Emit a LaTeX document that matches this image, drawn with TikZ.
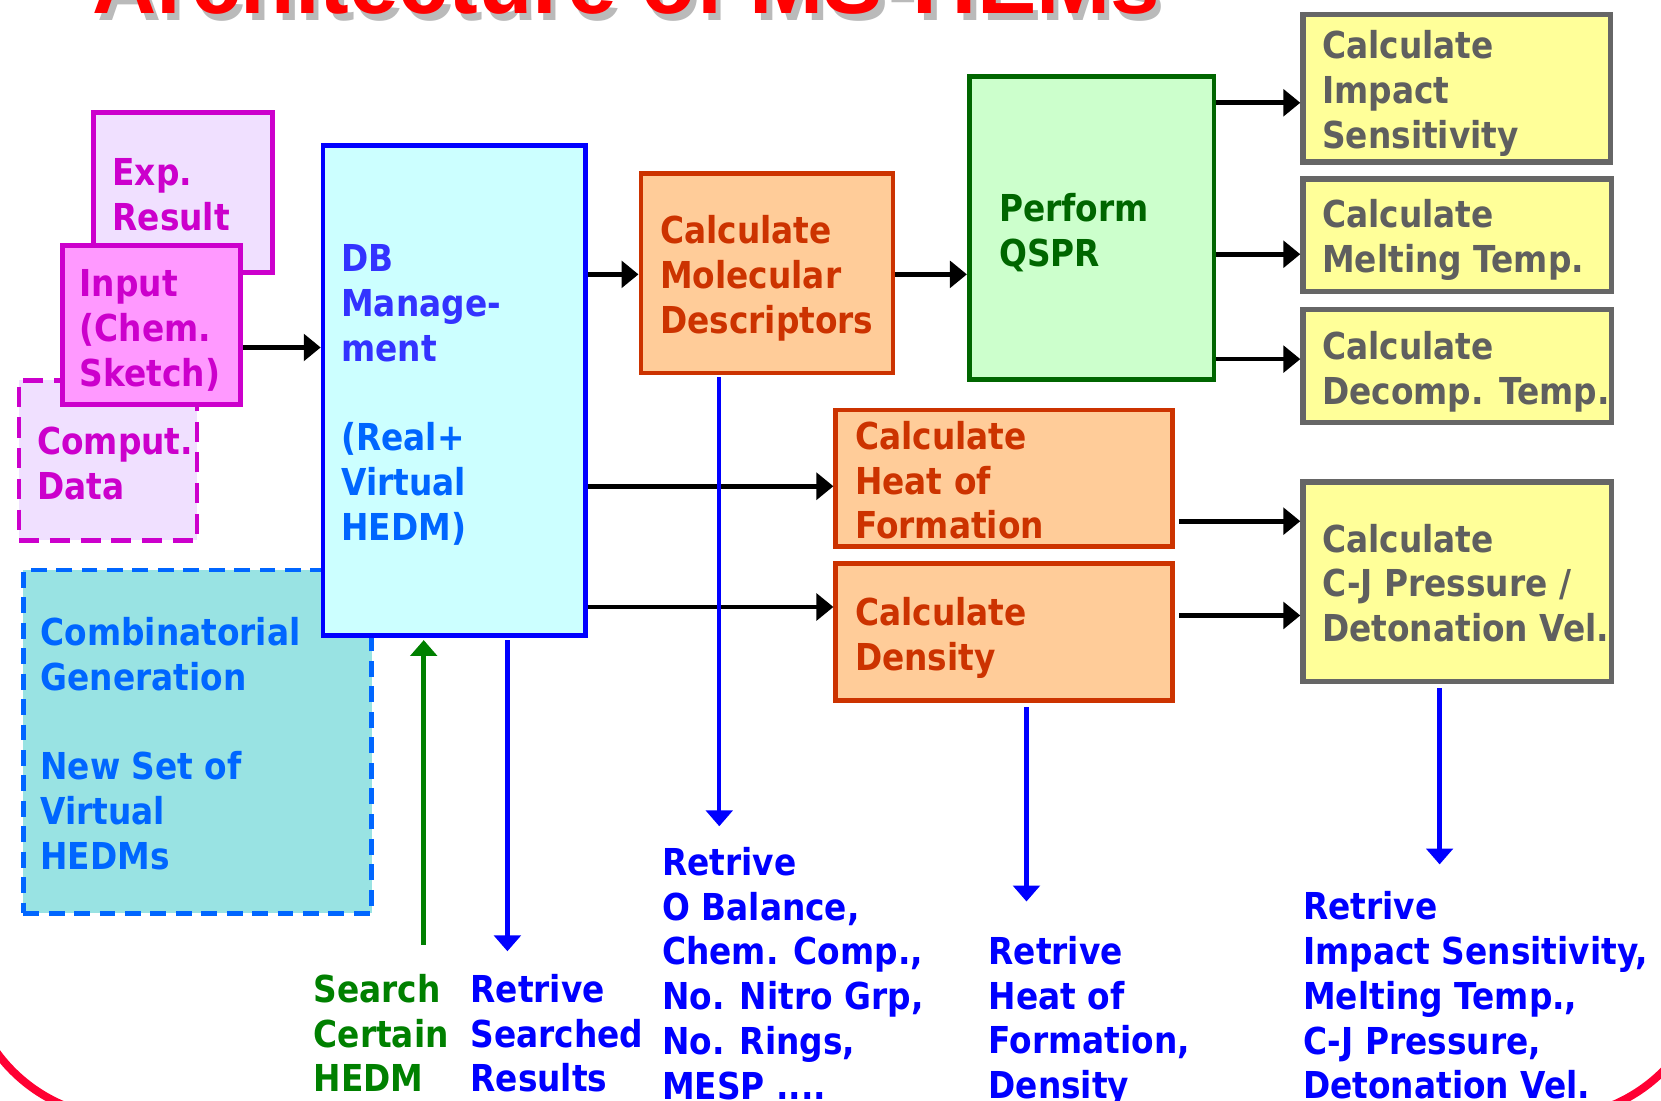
\documentclass[tikz,border=0pt]{standalone}
\usepackage{fontspec}
\newfontfamily\vb[FakeStretch=0.885]{DejaVu Sans}
\newfontfamily\tf{Liberation Sans}
\usetikzlibrary{arrows.meta,fit}
\definecolor{mag}{HTML}{CC00CC}
\definecolor{lav}{HTML}{F0E0FF}
\definecolor{pinkf}{HTML}{FF99FF}
\definecolor{dbfill}{HTML}{CCFFFF}
\definecolor{dbline}{HTML}{0000FF}
\definecolor{dbA}{HTML}{3333FF}
\definecolor{dbB}{HTML}{0066FF}
\definecolor{combfill}{HTML}{99E3E3}
\definecolor{orfill}{HTML}{FFCC99}
\definecolor{orline}{HTML}{CC3300}
\definecolor{grfill}{HTML}{CCFFCC}
\definecolor{grline}{HTML}{006600}
\definecolor{yefill}{HTML}{FFFF99}
\definecolor{gyline}{HTML}{666666}
\definecolor{gytext}{HTML}{5F5F5F}
\definecolor{sgreen}{HTML}{008000}
\definecolor{rblue}{HTML}{0000FF}
\definecolor{titlered}{HTML}{FF0000}
\definecolor{arcred}{HTML}{FF0033}
\newcommand\myst{\rule{0pt}{30pt}}
\begin{document}
\begin{tikzpicture}[x=1pt,y=-1pt,
  box/.style={draw, inner sep=0pt, line width=4.5pt},
  magbox/.style={box, draw=mag, fill=lav},
  orbox/.style={box, draw=orline, fill=orfill},
  yebox/.style={box, draw=gyline, fill=yefill, line width=5pt},
  txt/.style={anchor=north west, inner sep=0pt, align=left,
    font=\vb\bfseries\fontsize{35}{42.3}\selectfont},
  arr/.style={line width=4.5pt, -{Triangle[length=16pt,width=25pt]}},
  varr/.style={line width=4.5pt, -{Triangle[length=15pt,width=25pt]}}
]
\useasboundingbox (0,0) rectangle (1568,1039);
\clip (0,0) rectangle (1568,1039);
\fill[white] (0,0) rectangle (1568,1039);

% red frame arc
\draw[line width=7.5pt, draw=arcred, rounded corners=150pt] (-32,-300) rectangle (1614,1055);

% title
\node[anchor=base west, inner sep=0pt, text=black!45, opacity=0.6,
  font=\tf\bfseries\fontsize{84}{90}\selectfont] (tshadow) at (92,19) {Architecture of MS-HEMs};
\node[anchor=base west, inner sep=0pt, text=titlered,
  font=\tf\bfseries\fontsize{84}{90}\selectfont] (title) at (87,13) {Architecture of MS-HEMs};

% magenta input boxes
\node[magbox, fit={(88,106) (257,257)}] (exp) {};
\node[magbox, dash pattern=on 19pt off 10pt, fit={(18,359) (186,510)}] (comput) {};
\node[box, draw=mag, fill=pinkf, fit={(59,232) (227,382)}] (input) {};
\node[txt, text=mag] (expt) at (106,145) {\myst Exp.\\Result};
\node[txt, text=mag] (computt) at (35,399) {\myst Comput.\\Data};
\node[txt, text=mag] (inputt) at (75,250) {\myst Input\\(Chem.\\Sketch)};

% combinatorial generation
\node[box, draw=dbB, fill=combfill, dash pattern=on 15pt off 9pt, fit={(22,538) (351,862)}] (comb) {};
\node[txt, text=dbB] (combt) at (38,579) {\myst Combinatorial\\Generation\\[42.3pt]New Set of\\Virtual\\HEDMs};

% DB box
\node[box, draw=dbline, fill=dbfill, line width=4.5pt, fit={(305,137) (553,600)}] (db) {};
\node[txt, text=dbA] (dbt) at (322,226) {\myst DB\\Manage-\\ment\\[42.3pt]\color{dbB}(Real+\\\color{dbB}Virtual\\\color{dbB}HEDM)};

% orange boxes
\node[orbox, fit={(605,164) (843,352)}] (mol) {};
\node[txt, text=orline] (molt) at (623,200) {\myst Calculate\\Molecular\\Descriptors};
\node[orbox, fit={(789,387) (1107,516)}] (heat) {};
\node[txt, text=orline] (heatt) at (807,394) {\myst Calculate\\Heat of\\Formation};
\node[orbox, fit={(789,532) (1107,661)}] (dens) {};
\node[txt, text=orline] (denst) at (807,560) {\myst Calculate\\Density};

% QSPR
\node[box, draw=grline, fill=grfill, fit={(915,72) (1146,358)}] (qspr) {};
\node[txt, text=grline] (qsprt) at (943,179) {\myst Perform\\QSPR};

% yellow boxes
\node[yebox, fit={(1230,14) (1520,153)}] (imp) {};
\node[txt, text=gytext] (impt) at (1248,25) {\myst Calculate\\Impact\\Sensitivity};
\node[yebox, fit={(1230,169) (1521,275)}] (melt) {};
\node[txt, text=gytext] (meltt) at (1248,185) {\myst Calculate\\Melting Temp.};
\node[yebox, fit={(1230,292) (1521,399)}] (dec) {};
\node[txt, text=gytext] (dect) at (1248,309) {\myst Calculate\\Decomp. Temp.};
\node[yebox, fit={(1230,455) (1521,643)}] (cj) {};
\node[txt, text=gytext] (cjt) at (1248,491) {\myst Calculate\\C-J Pressure /\\Detonation Vel.};

% y levels
\coordinate (y328) at (0,328);
\coordinate (y259) at (0,259);
\coordinate (y97) at (0,97);
\coordinate (y240) at (0,240);
\coordinate (y339) at (0,339);
\coordinate (y459) at (0,459);
\coordinate (y573) at (0,573);
\coordinate (y492) at (0,492);
\coordinate (y581) at (0,581);

% black arrows
\draw[arr] (input.east |- y328) -- (db.west |- y328);
\draw[arr] (db.east |- y259) -- (mol.west |- y259);
\draw[arr] (mol.east |- y259) -- (qspr.west |- y259);
\draw[arr] (qspr.east |- y97) -- (imp.west |- y97);
\draw[arr] (qspr.east |- y240) -- (melt.west |- y240);
\draw[arr] (qspr.east |- y339) -- (dec.west |- y339);
\draw[arr] (db.east |- y459) -- (heat.west |- y459);
\draw[arr] (db.east |- y573) -- (dens.west |- y573);
\draw[arr] ([xshift=4pt]heat.east |- y492) -- (cj.west |- y492);
\draw[arr] ([xshift=4pt]dens.east |- y581) -- (cj.west |- y581);

% vertical arrows
\coordinate (gs) at (400,892);
\coordinate (r1) at (479,898);
\coordinate (r2) at (679,780);
\coordinate (r3) at (969,851);
\coordinate (r4) at (1359,816);
\draw[varr, draw=sgreen, fill=sgreen] (gs) -- ([yshift=-2pt]gs |- db.south);
\draw[varr, draw=rblue, fill=rblue] ([yshift=-2pt]r1 |- db.south) -- (r1);
\draw[varr, line width=3.5pt, draw=rblue, fill=rblue] ([yshift=-2pt]r2 |- mol.south) -- (r2);
\draw[varr, draw=rblue, fill=rblue] ([yshift=-4pt]r3 |- dens.south) -- (r3);
\draw[varr, draw=rblue, fill=rblue] ([yshift=-4pt]r4 |- cj.south) -- (r4);

% bottom texts
\node[txt, text=sgreen] (searcht) at (296,916) {\myst Search\\Certain\\HEDM};
\node[txt, text=rblue] (rett) at (444,916) {\myst Retrive\\Searched\\Results};
\node[txt, text=rblue] (ret2) at (625,796) {\myst Retrive\\O Balance,\\Chem. Comp.,\\No. Nitro Grp,\\No. Rings,\\MESP ....};
\node[txt, text=rblue] (ret3) at (933,880) {\myst Retrive\\Heat of\\Formation,\\Density};
\node[txt, text=rblue] (ret4) at (1230,838) {\myst Retrive\\Impact Sensitivity,\\Melting Temp.,\\C-J Pressure,\\Detonation Vel.};
\end{tikzpicture}
\end{document}
